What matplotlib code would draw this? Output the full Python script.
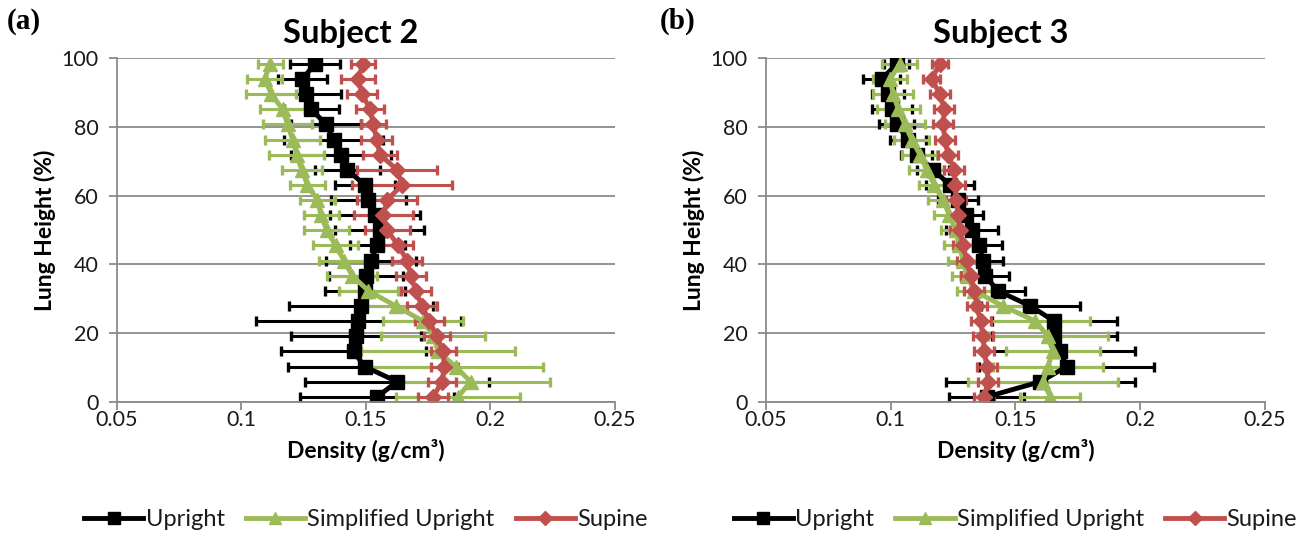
import matplotlib
matplotlib.use("Agg")
import matplotlib.pyplot as plt
from matplotlib.lines import Line2D

plt.rcParams['font.family'] = ['Lato', 'DejaVu Sans']

# lung height (%) of each slice
heights = [1.5, 5.9, 10.3, 14.7, 19.1, 23.5, 27.9, 32.3, 36.7, 41.1, 45.5, 49.9,
           54.3, 58.7, 63.1, 67.5, 71.9, 76.3, 80.7, 85.1, 89.5, 93.9, 98.3]

# Subject 2
s2_upright = [0.1545, 0.1625, 0.1495, 0.145, 0.146, 0.147, 0.148, 0.1495, 0.150, 0.152,
              0.1545, 0.1555, 0.1535, 0.151, 0.1495, 0.1425, 0.140, 0.137, 0.134, 0.128,
              0.126, 0.1245, 0.1295]
s2_upright_err = [0.031, 0.037, 0.031, 0.029, 0.026, 0.041, 0.029, 0.016, 0.015, 0.018,
                  0.011, 0.018, 0.018, 0.015, 0.012, 0.013, 0.020, 0.020, 0.014, 0.011,
                  0.014, 0.010, 0.010]
s2_simpl = [0.187, 0.192, 0.186, 0.179, 0.177, 0.173, 0.162, 0.151, 0.1445, 0.1412,
            0.1378, 0.1342, 0.132, 0.1305, 0.1265, 0.1242, 0.1222, 0.1205, 0.1185, 0.1165,
            0.112, 0.1094, 0.1115]
s2_simpl_err = [0.025, 0.032, 0.035, 0.031, 0.021, 0.016, 0.016, 0.012, 0.010, 0.010,
                0.009, 0.009, 0.007, 0.007, 0.007, 0.008, 0.011, 0.011, 0.010, 0.009,
                0.010, 0.007, 0.005]
s2_supine = [0.177, 0.1805, 0.1815, 0.181, 0.1785, 0.1755, 0.1725, 0.170, 0.168, 0.1665,
             0.163, 0.1585, 0.157, 0.1585, 0.1645, 0.1625, 0.1556, 0.1543, 0.153, 0.1516,
             0.1485, 0.1468, 0.1488]
s2_supine_err = [0.006, 0.0057, 0.0055, 0.005, 0.0053, 0.006, 0.006, 0.006, 0.006, 0.006,
                 0.006, 0.009, 0.012, 0.012, 0.020, 0.016, 0.0067, 0.0063, 0.005, 0.0057,
                 0.006, 0.007, 0.005]

# Subject 3
s3_upright = [0.1385, 0.160, 0.1705, 0.168, 0.1655, 0.1655, 0.156, 0.143, 0.1378, 0.137,
              0.1355, 0.1325, 0.130, 0.127, 0.1237, 0.117, 0.1104, 0.107, 0.1024, 0.1004,
              0.099, 0.0964, 0.1025]
s3_upright_err = [0.015, 0.038, 0.035, 0.030, 0.025, 0.025, 0.020, 0.011, 0.0095, 0.008,
                  0.009, 0.0105, 0.007, 0.008, 0.0095, 0.0063, 0.0063, 0.0073, 0.007, 0.008,
                  0.0064, 0.0075, 0.005]
s3_simpl = [0.164, 0.161, 0.163, 0.165, 0.163, 0.158, 0.145, 0.1335, 0.1305, 0.129,
            0.1275, 0.126, 0.1235, 0.121, 0.1175, 0.1144, 0.1117, 0.1084, 0.1057, 0.103,
            0.101, 0.0997, 0.1037]
s3_simpl_err = [0.012, 0.030, 0.022, 0.019, 0.024, 0.022, 0.012, 0.007, 0.006, 0.006,
                0.006, 0.006, 0.006, 0.006, 0.006, 0.007, 0.007, 0.007, 0.008, 0.0087,
                0.008, 0.007, 0.007]
s3_supine = [0.1375, 0.139, 0.1385, 0.1375, 0.137, 0.136, 0.1345, 0.1335, 0.132, 0.1305,
             0.129, 0.1278, 0.127, 0.1263, 0.1257, 0.1255, 0.123, 0.1217, 0.121, 0.1215,
             0.1197, 0.1164, 0.1197]
s3_supine_err = [0.004] * 21 + [0.0035, 0.0033]

x_ticks = [0.05, 0.1, 0.15, 0.2, 0.25]
x_labels = ["0.05", "0.1", "0.15", "0.2", "0.25"]
y_ticks = [0, 20, 40, 60, 80, 100]

BLACK = "#000000"
GREEN = "#9BBB59"
RED = "#C0504D"
GRID = "#8a8a8a"


def panel(ax, title, series):
    handles = []
    for (vals, errs, color, marker, ms, label) in series:
        ax.errorbar(vals, heights, xerr=errs, color=color, ecolor=color, lw=3.5,
                    elinewidth=2.2, capsize=3.4, capthick=2.4, marker=marker,
                    markersize=ms)
        handles.append(Line2D([], [], color=color, lw=3.5, marker=marker,
                              markersize=ms * 0.85, label=label))
    ax.set_xlim(0.05, 0.25)
    ax.set_ylim(0, 100)
    ax.set_xticks(x_ticks)
    ax.set_xticklabels(x_labels)
    ax.set_yticks(y_ticks)
    ax.yaxis.grid(True, color=GRID, lw=1.3)
    ax.set_axisbelow(True)
    for s in ("top", "right"):
        ax.spines[s].set_visible(False)
    for s in ("left", "bottom"):
        ax.spines[s].set_color(GRID)
        ax.spines[s].set_linewidth(1.3)
    ax.tick_params(axis="both", colors=GRID, labelcolor="#1a1a1a",
                   labelsize=15.5, length=6, width=1.3)
    ax.tick_params(axis="x", pad=0)
    ax.tick_params(axis="y", pad=7)
    ax.set_title(title, fontsize=23.5, fontweight="bold", pad=11, x=0.47)
    ax.set_xlabel("Density (g/cm³)", fontsize=16.5, fontweight="bold", labelpad=6)
    ax.set_ylabel("Lung Height (%)", fontsize=16.5, fontweight="bold", labelpad=4)
    ax.legend(handles=handles, loc="upper center", bbox_to_anchor=(0.5, -0.25), ncol=3,
              frameon=False, fontsize=17, handlelength=2.5, handletextpad=0.1,
              columnspacing=0.9, labelcolor="#1a1a1a")


fig = plt.figure(figsize=(13.04, 5.37), dpi=100)
ax1 = fig.add_axes([0.0897, 0.2514, 0.3819, 0.6406])
ax2 = fig.add_axes([0.5874, 0.2514, 0.3827, 0.6406])

panel(ax1, "Subject 2", [
    (s2_upright, s2_upright_err, BLACK, "s", 10.5, "Upright"),
    (s2_simpl, s2_simpl_err, GREEN, "^", 10.5, "Simplified Upright"),
    (s2_supine, s2_supine_err, RED, "D", 8, "Supine"),
])
panel(ax2, "Subject 3", [
    (s3_upright, s3_upright_err, BLACK, "s", 10.5, "Upright"),
    (s3_simpl, s3_simpl_err, GREEN, "^", 10.5, "Simplified Upright"),
    (s3_supine, s3_supine_err, RED, "D", 8, "Supine"),
])

fig.text(0.005, 0.985, "(a)", fontsize=21, fontweight="bold", va="top",
         family=["Liberation Serif", "DejaVu Serif"])
fig.text(0.506, 0.985, "(b)", fontsize=21, fontweight="bold", va="top",
         family=["Liberation Serif", "DejaVu Serif"])

fig.savefig("out.png", dpi=100)
